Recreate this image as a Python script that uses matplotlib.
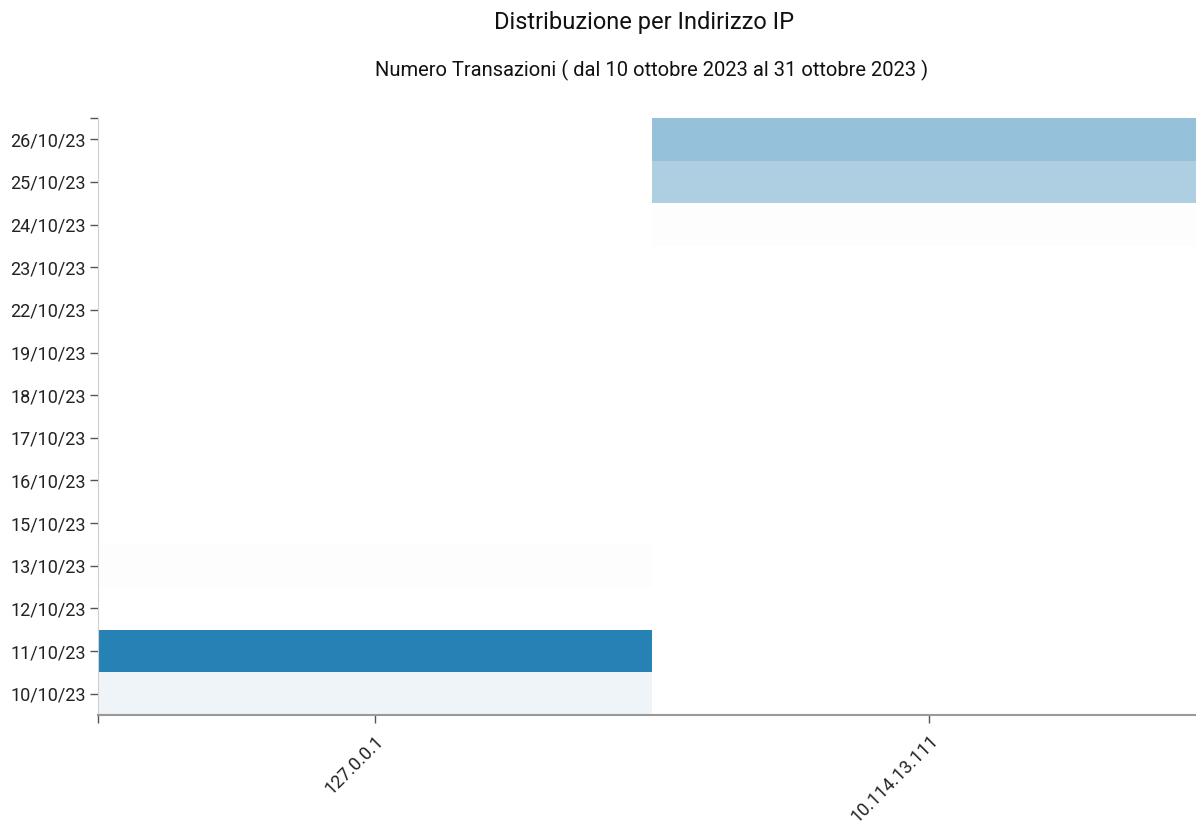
import numpy as np
import matplotlib.pyplot as plt
from matplotlib.colors import LinearSegmentedColormap

plt.rcParams["font.family"] = ["Roboto", "DejaVu Sans"]

dates = [
    "10/10/23", "11/10/23", "12/10/23", "13/10/23", "15/10/23", "16/10/23",
    "17/10/23", "18/10/23", "19/10/23", "22/10/23", "23/10/23", "24/10/23",
    "25/10/23", "26/10/23",
]
ips = ["127.0.0.1", "10.114.13.111"]

nan = np.nan
# transazioni per giorno, una lista per indirizzo (nan = nessun dato)
tx_local = [3, 28, nan, 1, nan, nan, nan, nan, nan, nan, nan, nan, nan, nan]
tx_remote = [nan, nan, nan, nan, nan, nan, nan, nan, nan, nan, nan, 1, 11, 14]

grid = np.ma.masked_invalid(np.array([tx_local, tx_remote], dtype=float).T)

cmap = LinearSegmentedColormap.from_list("blu", ["#fdfdfd", "#2681b5"])

fig = plt.figure(figsize=(11.96, 8.25), dpi=100)
ax = fig.add_axes([98 / 1196, 110 / 825, 1108 / 1196, 597 / 825])

ax.pcolormesh(
    np.arange(len(ips) + 1),
    np.arange(len(dates) + 1),
    grid,
    cmap=cmap,
    vmin=1,
    vmax=max(np.nanmax(tx_local), np.nanmax(tx_remote)),
)

ax.set_xlim(0, len(ips))
ax.set_ylim(0, len(dates))
ax.set_xticks(np.arange(len(ips)) + 0.5)
ax.set_xticklabels(ips, rotation=45, ha="right", rotation_mode="anchor", fontsize=13)
ax.set_yticks(np.arange(len(dates)) + 0.5)
ax.set_yticklabels(dates, fontsize=13)
# piccoli tratti alle estremità degli assi
ax.set_xticks([0], minor=True)
ax.set_yticks([len(dates)], minor=True)
ax.tick_params(axis="both", which="both", length=6, width=1,
               color="#555555", labelcolor="#222222")
ax.tick_params(axis="x", pad=6)
ax.tick_params(axis="y", pad=3)

for side in ("top", "right"):
    ax.spines[side].set_visible(False)
ax.spines["left"].set_color("#d0d0d0")
ax.spines["bottom"].set_color("#999999")
ax.spines["bottom"].set_linewidth(1.5)

fig.text(644 / 1196, 1 - 22 / 825, "Distribuzione per Indirizzo IP",
         ha="center", va="center", fontsize=17, color="#111111")
fig.text(652 / 1196, 1 - 70 / 825,
         "Numero Transazioni ( dal 10 ottobre 2023 al 31 ottobre 2023 )",
         ha="center", va="center", fontsize=14.5, color="#111111")

fig.savefig("out.png", dpi=100)
